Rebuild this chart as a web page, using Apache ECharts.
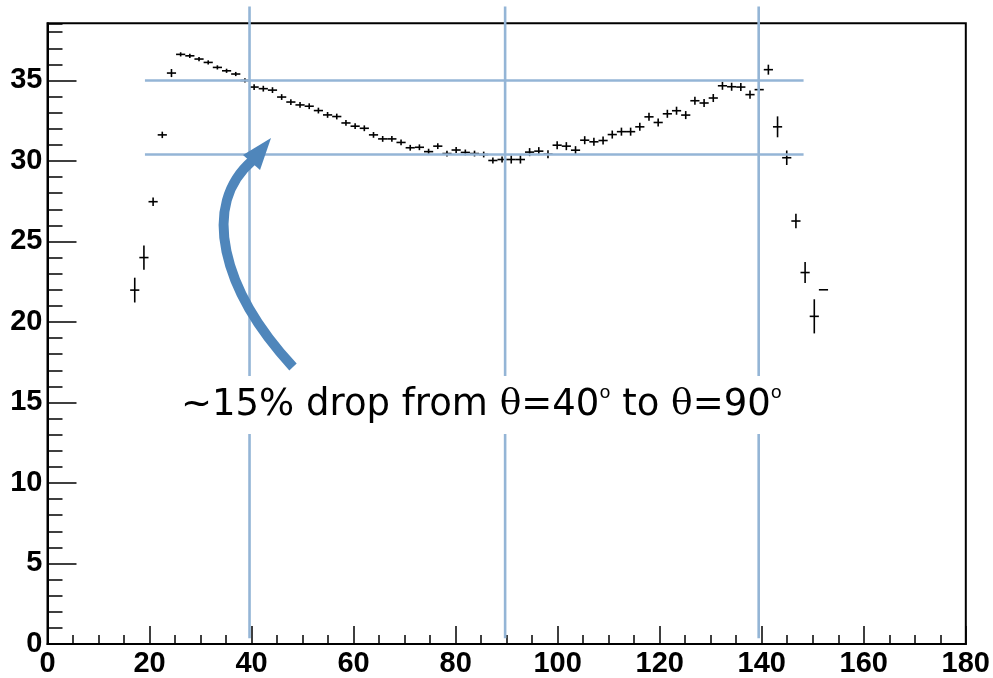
<!DOCTYPE html>
<html><head><meta charset="utf-8">
<script src="https://cdn.jsdelivr.net/npm/echarts@6/dist/echarts.min.js"></script>
<style>html,body{margin:0;padding:0;background:#fff}#c{width:993px;height:678px}</style>
</head><body><div id="c"></div>
<script>
// Bin centres (theta, degrees)
const thetaCenters = [17.1,18.9,20.7,22.5,24.3,26.1,27.9,29.7,31.5,33.3,35.1,36.9,38.7,40.5,42.3,44.1,45.9,47.7,49.5,51.3,53.1,54.9,56.7,58.5,60.3,62.1,63.9,65.7,67.5,69.3,71.1,72.9,74.7,76.5,78.3,80.1,81.9,83.7,85.5,87.3,89.1,90.9,92.7,94.5,96.3,98.1,99.9,101.7,103.5,105.3,107.1,108.9,110.7,112.5,114.3,116.1,117.9,119.7,121.5,123.3,125.1,126.9,128.7,130.5,132.3,134.1,135.9,137.7,139.5,141.3,143.1,144.9,146.7,148.5,150.3,152.1];
// Measured values
const yValues = [21.98,24.0,27.47,31.62,35.46,36.62,36.53,36.33,36.12,35.81,35.60,35.40,35.0,34.59,34.49,34.40,33.97,33.66,33.48,33.40,33.13,32.86,32.76,32.36,32.16,32.03,31.62,31.37,31.37,31.15,30.82,30.85,30.58,30.92,30.46,30.68,30.53,30.46,30.40,30.03,30.09,30.09,30.09,30.55,30.61,30.42,30.98,30.92,30.67,31.29,31.19,31.27,31.64,31.82,31.82,32.12,32.74,32.39,32.93,33.12,32.85,33.74,33.60,33.91,34.67,34.61,34.59,34.12,34.43,35.67,32.12,30.20,26.27,23.07,20.35,22.0];
// Vertical error bar half-lengths
const yErrors = [0.77,0.75,0.26,0.2,0.25,0.13,0.13,0.13,0.13,0.13,0.13,0.13,0.13,0.18,0.18,0.18,0.18,0.18,0.18,0.18,0.18,0.18,0.18,0.18,0.18,0.18,0.18,0.18,0.18,0.18,0.18,0.18,0.18,0.18,0.18,0.18,0.18,0.18,0.18,0.18,0.18,0.25,0.25,0.25,0.25,0.25,0.25,0.25,0.25,0.25,0.25,0.25,0.25,0.25,0.25,0.25,0.25,0.25,0.25,0.25,0.25,0.25,0.25,0.25,0.25,0.25,0.25,0.25,0.25,0.31,0.65,0.45,0.45,0.65,1.06,0];
const binHalfWidth = 0.9;

const xTickLabels = [0,20,40,60,80,100,120,140,160,180];
const yTickLabels = [0,5,10,15,20,25,30,35];

// Annotation guide lines (data coordinates)
const guideVerticalX = [39.6, 89.7, 139.4];
const guideVerticalYRange = [0.35, 39.6];
const guideHorizontalY = [35.0, 30.4];
const guideHorizontalXRange = [19.1, 148.2];
const annotationText = '~15% drop from θ=40º to θ=90º';

const chart = echarts.init(document.getElementById('c'), null, {renderer:'canvas'});
const data = thetaCenters.map((x,i)=>[x, yValues[i], yErrors[i]]);
const labelFont = {fontFamily:'Liberation Sans, Arial, sans-serif', fontWeight:'bold', fontSize:29, color:'#000'};

chart.setOption({
  animation:false,
  backgroundColor:'#fff',
  grid:{left:47.5, right:25.5, top:23.3, bottom:32, show:true, borderColor:'#000', borderWidth:2, backgroundColor:'transparent'},
  xAxis:[{
    type:'value', min:0, max:180, interval:20,
    axisLine:{show:true, onZero:false, lineStyle:{color:'#000', width:2}},
    axisTick:{show:true, inside:true, length:18, lineStyle:{color:'#000', width:1.5}},
    minorTick:{show:true, splitNumber:4, length:9, lineStyle:{color:'#000', width:1.5}},
    splitLine:{show:false},
    axisLabel:Object.assign({margin:5, formatter:v=>xTickLabels.includes(v)?String(v):''}, labelFont)
  }],
  yAxis:[{
    type:'value', min:0, max:38.55, interval:5, position:'left',
    axisLine:{show:true, onZero:false, lineStyle:{color:'#000', width:2}},
    axisTick:{show:true, inside:true, length:29, lineStyle:{color:'#000', width:1.5}},
    splitLine:{show:false},
    axisLabel:Object.assign({margin:5, showMaxLabel:false, formatter:v=>yTickLabels.includes(v)?String(v):''}, labelFont)
  },{
    type:'value', min:0, max:38.55, interval:1, position:'left', offset:0,
    axisLine:{show:false},
    axisTick:{show:true, inside:true, length:15, lineStyle:{color:'#000', width:1.5}},
    splitLine:{show:false},
    axisLabel:{show:false}
  }],
  series:[{
    type:'custom', xAxisIndex:0, yAxisIndex:0, data:data, clip:false,
    renderItem:function(params, api){
      const x = api.value(0), y = api.value(1), e = api.value(2);
      const l = api.coord([x-binHalfWidth, y]), r = api.coord([x+binHalfWidth, y]);
      const t = api.coord([x, y+e]), b = api.coord([x, y-e]);
      const st = {stroke:'#000', lineWidth:1.6};
      const ch = [{type:'line', shape:{x1:l[0],y1:l[1],x2:r[0],y2:r[1]}, style:st}];
      if (e>0) ch.push({type:'line', shape:{x1:t[0],y1:t[1],x2:b[0],y2:b[1]}, style:st});
      return {type:'group', children:ch};
    }
  }]
});

const P = (x,y)=>chart.convertToPixel({xAxisIndex:0, yAxisIndex:0},[x,y]);
const guideStyle = {stroke:'#94B5D6', lineWidth:2.6};
const gfx = [];
guideHorizontalY.forEach(y=>{
  const a = P(guideHorizontalXRange[0], y), b = P(guideHorizontalXRange[1], y);
  gfx.push({type:'line', z:50, shape:{x1:a[0],y1:a[1],x2:b[0],y2:b[1]}, style:guideStyle});
});
guideVerticalX.forEach(x=>{
  const a = P(x, guideVerticalYRange[0]), b = P(x, guideVerticalYRange[1]);
  gfx.push({type:'line', z:50, shape:{x1:a[0],y1:a[1],x2:b[0],y2:b[1]}, style:guideStyle});
});
// curved arrow
gfx.push({type:'bezierCurve', z:60, shape:{x1:293,y1:367,cpx1:222,cpy1:290,cpx2:200,cpy2:205,x2:253,y2:160},
  style:{stroke:'#4F86BB', lineWidth:10, fill:null, lineCap:'butt'}});
gfx.push({type:'polygon', z:61, shape:{points:[[271,138],[243,155],[260,170]]}, style:{fill:'#4F86BB'}});
// annotation text
const parts = annotationText.split(/(θ|º)/);
let rt = '';
parts.forEach(p=>{ if(!p) return; if(p==='θ') rt += '{t|θ}'; else if(p==='º') rt += '{s|o}'; else rt += '{a|'+p+'}'; });
gfx.push({type:'text', z:70, x:175, y:405, style:{
  text:rt, verticalAlign:'middle', align:'left', backgroundColor:'#fff', padding:[8,6,8,6],
  rich:{
    a:{fontFamily:'DejaVu Sans, sans-serif', fontSize:37, lineHeight:42, fill:'#000'},
    t:{fontFamily:'DejaVu Serif, serif', fontSize:36, lineHeight:42, fill:'#000'},
    s:{fontFamily:'DejaVu Sans, sans-serif', fontSize:18, lineHeight:24, verticalAlign:'top', fill:'#000'}
  }}});
chart.setOption({graphic:gfx});
</script></body></html>
